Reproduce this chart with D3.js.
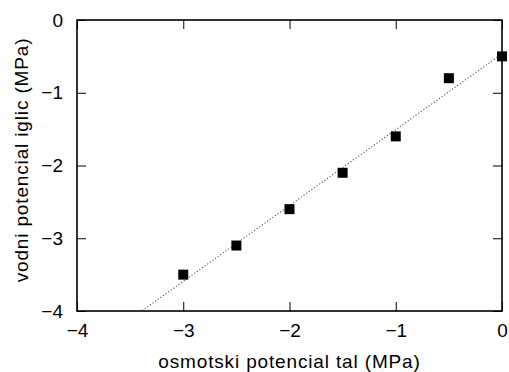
<!DOCTYPE html>
<html><head><meta charset="utf-8">
<script src="https://cdn.jsdelivr.net/npm/d3@7"></script>
<style>body{margin:0;background:#fff}svg{display:block}text{font-family:"Liberation Sans",Arial,sans-serif;fill:#000}</style>
</head><body>
<script>
const xValues = [-3, -2.5, -2, -1.5, -1, -0.5, 0];
const yValues = [-3.5, -3.1, -2.6, -2.1, -1.6, -0.8, -0.5];
const xTicks = [-4, -3, -2, -1, 0];
const yTicks = [0, -1, -2, -3, -4];
const xTitle = "osmotski potencial tal (MPa)";
const yTitle = "vodni potencial iglic (MPa)";

const W = 509, H = 372;
const m = {l: 77, r: 7, t: 20, b: 61};
const svg = d3.select("body").append("svg").attr("width", W).attr("height", H);
const x = d3.scaleLinear().domain([-4, 0]).range([m.l, W - m.r]);
const y = d3.scaleLinear().domain([-4, 0]).range([H - m.b, m.t]);

// least squares fit
const n = xValues.length;
const mx = d3.mean(xValues), my = d3.mean(yValues);
let sxy = 0, sxx = 0;
for (let i = 0; i < n; i++) { sxy += (xValues[i]-mx)*(yValues[i]-my); sxx += (xValues[i]-mx)**2; }
const slope = sxy / sxx, icpt = my - slope * mx;

svg.append("clipPath").attr("id","clip").append("rect")
  .attr("x", m.l).attr("y", m.t).attr("width", W-m.r-m.l).attr("height", H-m.b-m.t);
const lx = d3.range(-4, 0.0001, 0.05);
svg.append("path").attr("clip-path","url(#clip)")
  .datum(lx)
  .attr("d", d3.line().x(d => x(d)).y(d => y(slope*d + icpt)))
  .attr("fill","none").attr("stroke","#555").attr("stroke-width",1.1).attr("stroke-dasharray","1.2,2");

const fs = 19, tl = 9;
const fmt = d => d3.format("")(d).replace("-", "\u2212");
const gx = svg.append("g").attr("transform", `translate(0,${H-m.b})`)
  .call(d3.axisBottom(x).tickValues(xTicks).tickSize(-tl).tickPadding(13).tickFormat(fmt));
const gxt = svg.append("g").attr("transform", `translate(0,${m.t})`)
  .call(d3.axisTop(x).tickValues(xTicks).tickSize(-tl).tickFormat(""));
const gy = svg.append("g").attr("transform", `translate(${m.l},0)`)
  .call(d3.axisLeft(y).tickValues(yTicks).tickSize(-tl).tickPadding(14).tickFormat(fmt));
const gyr = svg.append("g").attr("transform", `translate(${W-m.r},0)`)
  .call(d3.axisRight(y).tickValues(yTicks).tickSize(-tl).tickFormat(""));
[gx, gxt, gy, gyr].forEach(g => {
  g.select(".domain").remove();
  g.selectAll("line").attr("stroke","#000").attr("stroke-width",1);
  g.selectAll("text").attr("font-size", fs).attr("font-family", '"Liberation Sans",Arial,sans-serif').attr("fill","#000");
});
gx.selectAll("text").attr("dy", "0.71em");
svg.append("rect").attr("x", m.l).attr("y", m.t).attr("width", W-m.r-m.l).attr("height", H-m.b-m.t)
  .attr("fill","none").attr("stroke","#000").attr("stroke-width",1.6);

const ms = 10;
svg.append("g").selectAll("rect").data(xValues.map((v,i)=>[v,yValues[i]])).join("rect")
  .attr("x", d => x(d[0]) - ms/2).attr("y", d => y(d[1]) - ms/2)
  .attr("width", ms).attr("height", ms).attr("fill","#000");

svg.append("text").attr("x", (x(-4)+x(0))/2).attr("y", 368).attr("text-anchor","middle")
  .attr("font-size", fs).attr("letter-spacing", 0.85).text(xTitle);
svg.append("text").attr("transform", `translate(28,160) rotate(-90)`).attr("text-anchor","middle")
  .attr("font-size", fs).attr("letter-spacing", 0.85).text(yTitle);
</script>
</body></html>
